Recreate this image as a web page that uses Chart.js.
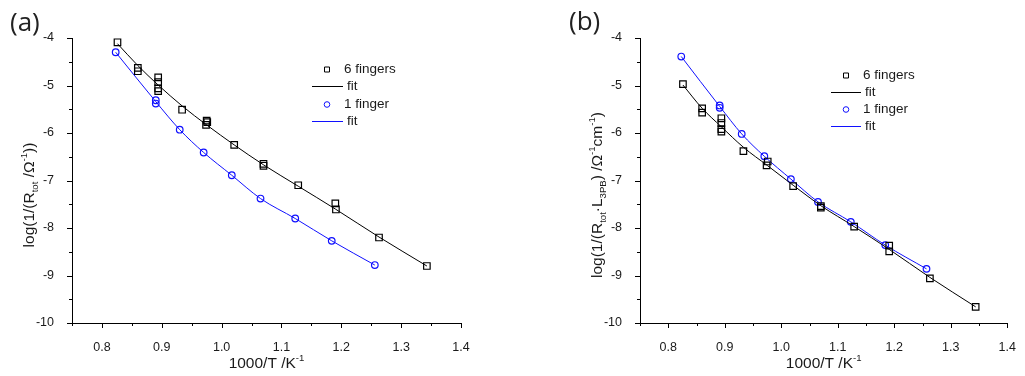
<!DOCTYPE html>
<html>
<head>
<meta charset="utf-8">
<script src="https://cdn.jsdelivr.net/npm/chart.js@4.4.0/dist/chart.umd.min.js"></script>
<style>
  body { margin: 0; background: #fff; }
  .panel { position: absolute; top: 0; width: 512px; height: 376px; }
  .tag { position: absolute; font-family: "Open Sans", sans-serif; font-size: 26px; color: #222; line-height: 1; }
</style>
</head>
<body>
<div class="panel" style="left:0"><canvas id="chartA" width="512" height="376"></canvas></div>
<div class="panel" style="left:513px"><canvas id="chartB" width="512" height="376"></canvas></div>
<div class="tag" style="left:10px; top:8px">(a)</div>
<div class="tag" style="left:569px; top:7px">(b)</div>
<script>
// panel (a): log(1/R_tot)
const sixX_a = [0.826, 0.860, 0.860, 0.894, 0.894, 0.894, 0.894, 0.934, 0.975, 0.976, 0.974, 1.021, 1.070, 1.070, 1.128, 1.190, 1.191, 1.263, 1.343];
const sixY_a = [-4.09, -4.63, -4.70, -4.83, -4.93, -5.06, -5.12, -5.51, -5.74, -5.77, -5.83, -6.25, -6.65, -6.69, -7.10, -7.48, -7.61, -8.20, -8.80];
const oneX_a = [0.823, 0.890, 0.890, 0.930, 0.970, 1.017, 1.065, 1.123, 1.184, 1.256];
const oneY_a = [-4.30, -5.31, -5.38, -5.93, -6.41, -6.89, -7.38, -7.80, -8.27, -8.78];
const fit6X_a = [0.826, 0.860, 0.894, 0.934, 0.975, 1.021, 1.070, 1.128, 1.190, 1.263, 1.343];
const fit6Y_a = [-4.12, -4.58, -4.99, -5.43, -5.83, -6.25, -6.67, -7.12, -7.60, -8.19, -8.80];
const fit1X_a = [0.823, 0.890, 0.930, 0.970, 1.017, 1.065, 1.123, 1.184, 1.256];
const fit1Y_a = [-4.30, -5.34, -5.93, -6.41, -6.89, -7.38, -7.80, -8.27, -8.78];

// panel (b): log(1/(R_tot*L_3PB))
const sixX_b = [0.826, 0.860, 0.860, 0.894, 0.894, 0.894, 0.894, 0.933, 0.976, 0.974, 1.021, 1.070, 1.070, 1.129, 1.191, 1.191, 1.263, 1.344];
const sixY_b = [-4.97, -5.48, -5.57, -5.69, -5.79, -5.92, -5.97, -6.38, -6.60, -6.68, -7.12, -7.54, -7.57, -7.97, -8.37, -8.49, -9.06, -9.66];
const oneX_b = [0.823, 0.891, 0.891, 0.930, 0.970, 1.017, 1.065, 1.123, 1.184, 1.257];
const oneY_b = [-4.39, -5.42, -5.47, -6.02, -6.49, -6.97, -7.45, -7.87, -8.36, -8.86];
const fit6X_b = [0.826, 0.860, 0.894, 0.933, 0.976, 1.021, 1.070, 1.129, 1.191, 1.263, 1.344];
const fit6Y_b = [-4.99, -5.48, -5.87, -6.30, -6.69, -7.10, -7.53, -7.97, -8.45, -9.04, -9.66];
const fit1X_b = [0.823, 0.891, 0.930, 0.970, 1.017, 1.065, 1.123, 1.184, 1.257];
const fit1Y_b = [-4.39, -5.44, -6.02, -6.49, -6.97, -7.45, -7.87, -8.36, -8.86];

const seriesLabels = ['6 fingers', 'fit', '1 finger', 'fit'];
const xTitle = [{t: '1000/T /K'}, {t: '-1', sup: true}];
const yTitle_a = [{t: 'log(1/(R'}, {t: 'tot', sub: true}, {t: ' /\u03A9'}, {t: '-1', sup: true}, {t: '))'}];
const yTitle_b = [{t: 'log(1/(R'}, {t: 'tot', sub: true}, {t: '\u00B7L'}, {t: '3PB', sub: true}, {t: ') /\u03A9'}, {t: '-1', sup: true}, {t: 'cm'}, {t: '-1', sup: true}, {t: ')'}];

const FONT = '"Liberation Sans", Arial, sans-serif';
const INK = '#1a1a1a';
const BLACK = '#000000';
const BLUE = '#1010ff';

function pts(xs, ys) {
  return xs.map((x, i) => ({x: x, y: ys[i]}));
}

function isMajor(v, step) {
  const k = v / step;
  return Math.abs(k - Math.round(k)) < 1e-6;
}

// outward major/minor ticks like Origin
const tickMarks = {
  id: 'tickMarks',
  afterDraw(chart) {
    const ctx = chart.ctx, a = chart.chartArea;
    ctx.save();
    ctx.strokeStyle = '#000';
    ctx.lineWidth = 1;
    ctx.beginPath();
    chart.scales.x.ticks.forEach(t => {
      const px = Math.round(chart.scales.x.getPixelForValue(t.value)) + 0.5;
      const len = isMajor(t.value, 0.1) ? 5 : 3;
      ctx.moveTo(px, a.bottom);
      ctx.lineTo(px, a.bottom + len);
    });
    chart.scales.y.ticks.forEach(t => {
      const py = Math.round(chart.scales.y.getPixelForValue(t.value)) + 0.5;
      const len = isMajor(t.value, 1) ? 5 : 3;
      ctx.moveTo(a.left, py);
      ctx.lineTo(a.left - len, py);
    });
    ctx.stroke();
    ctx.restore();
  }
};

function richWidth(ctx, segs, size) {
  let w = 0;
  segs.forEach(s => {
    ctx.font = ((s.sub || s.sup) ? size * 0.62 : size) + 'px ' + FONT;
    w += ctx.measureText(s.t).width;
  });
  return w;
}

function drawRich(ctx, segs, size, x, y) {
  let cx = x;
  ctx.textBaseline = 'alphabetic';
  ctx.textAlign = 'left';
  segs.forEach(s => {
    let dy = 0;
    if (s.sub) dy = size * 0.28;
    if (s.sup) dy = -size * 0.42;
    ctx.font = ((s.sub || s.sup) ? size * 0.62 : size) + 'px ' + FONT;
    ctx.fillText(s.t, cx, y + dy);
    cx += ctx.measureText(s.t).width;
  });
}

const axisTitles = {
  id: 'axisTitles',
  afterDraw(chart, args, opts) {
    const ctx = chart.ctx, a = chart.chartArea, size = opts.size;
    ctx.save();
    ctx.fillStyle = INK;
    let w = richWidth(ctx, opts.x, size);
    drawRich(ctx, opts.x, size, (a.left + a.right) / 2 - w / 2, a.bottom + opts.xGap);
    w = richWidth(ctx, opts.y, size);
    ctx.translate(a.left - opts.yGap, opts.yMid);
    ctx.rotate(-Math.PI / 2);
    drawRich(ctx, opts.y, size, -w / 2, 0);
    ctx.restore();
  }
};

const boxLegend = {
  id: 'boxLegend',
  afterDraw(chart, args, opts) {
    const ctx = chart.ctx;
    ctx.save();
    ctx.font = '13.5px ' + FONT;
    ctx.textBaseline = 'middle';
    ctx.textAlign = 'left';
    chart.data.datasets.forEach((ds, i) => {
      const y = Math.round(opts.y0 + i * opts.dy) + 0.5;
      ctx.strokeStyle = ds.legendColor;
      ctx.lineWidth = 1;
      let tx;
      if (ds.showLine) {
        ctx.beginPath();
        ctx.moveTo(opts.lineX1, y);
        ctx.lineTo(opts.lineX2, y);
        ctx.stroke();
        tx = opts.lineX2 + 4;
      } else {
        ctx.beginPath();
        if (ds.pointStyle === 'rect') ctx.rect(opts.markX - 2.5, y - 2.5, 5, 5);
        else ctx.arc(opts.markX, y, 2.8, 0, Math.PI * 2);
        ctx.stroke();
        tx = opts.markX + 17;
      }
      ctx.fillStyle = INK;
      ctx.fillText(ds.label, tx, y);
    });
    ctx.restore();
  }
};

function makeDatasets(six, one, fit6, fit1) {
  return [
    {label: seriesLabels[0], data: six, showLine: false, pointStyle: 'rect', pointRadius: 4.6,
     borderColor: BLACK, legendColor: BLACK, backgroundColor: 'rgba(0,0,0,0)', pointBorderWidth: 1.2},
    {label: seriesLabels[1], data: fit6, showLine: true, pointRadius: 0, borderColor: BLACK,
     legendColor: BLACK, borderWidth: 1, cubicInterpolationMode: 'monotone'},
    {label: seriesLabels[2], data: one, showLine: false, pointStyle: 'circle', pointRadius: 3.3,
     borderColor: BLUE, legendColor: BLUE, backgroundColor: 'rgba(0,0,0,0)', pointBorderWidth: 1.2},
    {label: seriesLabels[3], data: fit1, showLine: true, pointRadius: 0, borderColor: BLUE,
     legendColor: BLUE, borderWidth: 1, cubicInterpolationMode: 'monotone'}
  ];
}

function makeChart(id, datasets, yAxisWidth, padRight, yTitle, legend) {
  return new Chart(document.getElementById(id), {
    type: 'scatter',
    data: {datasets: datasets},
    options: {
      responsive: false,
      animation: false,
      layout: {padding: {left: 0, right: padRight, top: 38, bottom: 0}},
      plugins: {
        legend: {display: false},
        tooltip: {enabled: false},
        axisTitles: {x: xTitle, y: yTitle, size: 15.5, xGap: 45, yGap: 38, yMid: 195},
        boxLegend: legend
      },
      scales: {
        x: {
          type: 'linear', min: 0.75, max: 1.4,
          grid: {display: false},
          border: {display: true, color: '#000', width: 1},
          ticks: {
            stepSize: 0.05, autoSkip: false, maxRotation: 0, padding: 9,
            color: INK, font: {family: FONT, size: 12.5},
            callback: v => isMajor(v, 0.1) ? v.toFixed(1) : ''
          },
          afterFit: s => { s.height = 53; }
        },
        y: {
          type: 'linear', min: -10, max: -4,
          grid: {display: false},
          border: {display: true, color: '#000', width: 1},
          ticks: {
            stepSize: 0.5, autoSkip: false, padding: 10,
            color: INK, font: {family: FONT, size: 12.5},
            callback: v => isMajor(v, 1) ? String(Math.round(v)) : ''
          },
          afterFit: s => { s.width = yAxisWidth; }
        }
      }
    },
    plugins: [tickMarks, axisTitles, boxLegend]
  });
}

makeChart('chartA',
  makeDatasets(pts(sixX_a, sixY_a), pts(oneX_a, oneY_a), pts(fit6X_a, fit6Y_a), pts(fit1X_a, fit1Y_a)),
  72, 51, yTitle_a,
  {markX: 327, lineX1: 312, lineX2: 343, y0: 69, dy: 17.3});

makeChart('chartB',
  makeDatasets(pts(sixX_b, sixY_b), pts(oneX_b, oneY_b), pts(fit6X_b, fit6Y_b), pts(fit1X_b, fit1Y_b)),
  127, 9, yTitle_b,
  {markX: 333, lineX1: 318, lineX2: 348, y0: 75, dy: 17});
</script>
</body>
</html>
